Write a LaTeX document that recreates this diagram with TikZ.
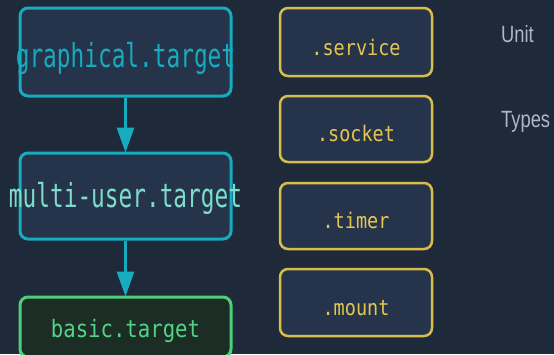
\documentclass[tikz,border=0pt]{standalone}
\usepackage{fontspec}
\usetikzlibrary{arrows.meta}
\newfontfamily\bigmono[FakeStretch=0.69]{DejaVu Sans Mono}
\newfontfamily\smallmono[FakeStretch=0.86]{DejaVu Sans Mono}
\newfontfamily\labelfont[FakeStretch=0.78]{Liberation Sans}
\definecolor{bgc}{HTML}{1E2A3A}
\definecolor{boxfill}{HTML}{25344A}
\definecolor{teal}{HTML}{17ABC0}
\definecolor{mint}{HTML}{7EDCCB}
\definecolor{greenline}{HTML}{4CCF78}
\definecolor{greenfill}{HTML}{1C2D26}
\definecolor{greentext}{HTML}{52D483}
\definecolor{gold}{HTML}{D9BC4E}
\definecolor{goldtext}{HTML}{E6C650}
\definecolor{greytext}{HTML}{AEB7C6}
\tikzset{
  targetbox/.style={draw=teal, fill=boxfill, line width=3pt, rounded corners=8pt,
    minimum width=211pt, inner sep=0pt},
  basebox/.style={draw=greenline, fill=greenfill, line width=3pt, rounded corners=8pt,
    minimum width=211pt, minimum height=60pt, inner sep=0pt},
  unitbox/.style={draw=gold, fill=boxfill, line width=2.5pt, rounded corners=8pt,
    minimum width=152pt, inner sep=0pt},
  targettext/.style={font=\bigmono\fontsize{33}{36}\selectfont, inner sep=0pt, anchor=base},
  basetext/.style={font=\smallmono\fontsize{24}{28}\selectfont, text=greentext, inner sep=0pt, anchor=base},
  unittext/.style={font=\smallmono\fontsize{21.5}{24}\selectfont, text=goldtext, inner sep=0pt, anchor=base},
  sidetext/.style={font=\labelfont\fontsize{23.5}{26}\selectfont, text=greytext, anchor=base west, inner sep=0pt},
  flow/.style={draw=teal, line width=3pt, -{Triangle[width=17pt,length=25pt]}, shorten >=-1pt}
}
\begin{document}
\begin{tikzpicture}[x=1pt, y=-1pt]
  \fill[bgc] (0,0) rectangle (554,354);
  \useasboundingbox (0,0) rectangle (554,354);

  % target chain
  \node[targetbox, minimum height=88pt] (g) at (125.5,52) {};
  \node[targettext, text=teal] (gt) at (125.5,67) {graphical.target};
  \node[targetbox, minimum height=86pt] (m) at (125.5,196) {};
  \node[targettext, text=mint] (mt) at (125.5,207) {multi-user.target};
  \node[basebox] (b) at (125.5,327) {};
  \node[basetext] (bt) at (125.5,337) {basic.target};

  \draw[flow] (g.south) -- (m.north);
  \draw[flow] (m.south) -- (b.north);

  % unit type boxes
  \node[unitbox, minimum height=68pt] (sv) at (356,42) {};
  \node[unittext] (svt) at (356,55) {.service};
  \node[unitbox, minimum height=66pt] (sk) at (356,129) {};
  \node[unittext] (skt) at (356,141) {.socket};
  \node[unitbox, minimum height=66pt] (tm) at (356,216) {};
  \node[unittext] (tmt) at (356,228) {.timer};
  \node[unitbox, minimum height=67pt] (mn) at (356,302.5) {};
  \node[unittext] (mnt) at (356,315) {.mount};

  % side caption
  \node[sidetext] (u) at (501,42) {Unit};
  \node[sidetext] (t) at (501,127) {Types};
\end{tikzpicture}
\end{document}
